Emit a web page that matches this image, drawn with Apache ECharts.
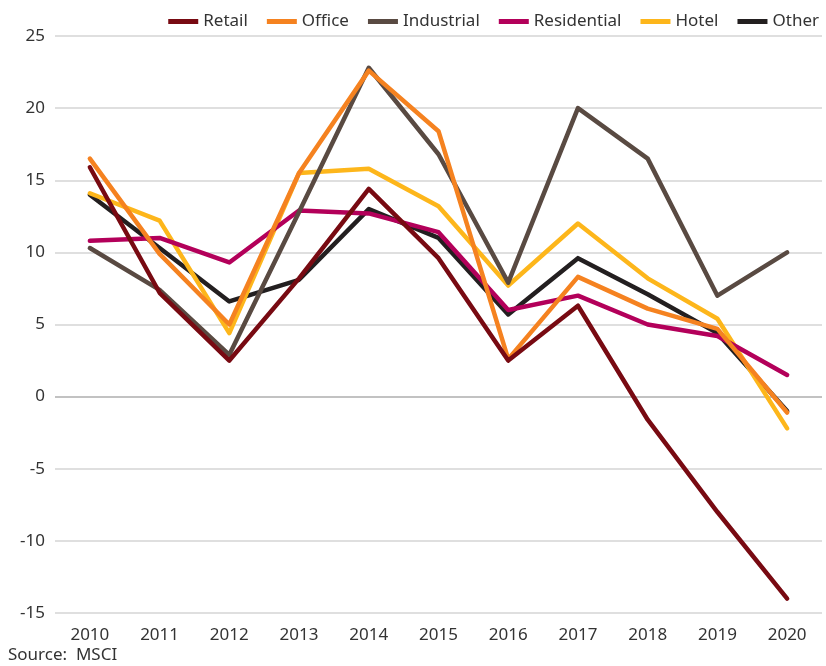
<!DOCTYPE html>
<html>
<head>
<meta charset="utf-8">
<script src="https://cdn.jsdelivr.net/npm/echarts@6/dist/echarts.min.js"></script>
<style>
  html, body { margin: 0; padding: 0; background: #fff; }
  #main { width: 826px; height: 666px; }
</style>
</head>
<body>
<div id="main"></div>
<script>
// categories and values
var years = ['2010', '2011', '2012', '2013', '2014', '2015', '2016', '2017', '2018', '2019', '2020'];
var retail      = [15.9, 7.2, 2.5, 8.2, 14.4, 9.6, 2.5, 6.3, -1.6, -8.0, -14.0];
var office      = [16.5, 9.9, 5.0, 15.5, 22.6, 18.4, 2.6, 8.3, 6.1, 4.7, -1.1];
var industrial  = [10.3, 7.4, 2.9, 12.8, 22.8, 16.8, 7.9, 20.0, 16.5, 7.0, 10.0];
var residential = [10.8, 11.0, 9.3, 12.9, 12.7, 11.4, 6.0, 7.0, 5.0, 4.2, 1.5];
var hotel       = [14.1, 12.2, 4.4, 15.5, 15.8, 13.2, 7.7, 12.0, 8.2, 5.4, -2.2];
var other       = [14.0, 10.3, 6.6, 8.1, 13.0, 11.0, 5.7, 9.6, 7.1, 4.4, -1.0];

var names  = ['Retail', 'Office', 'Industrial', 'Residential', 'Hotel', 'Other'];
var colors = ['#780a12', '#f58220', '#594a42', '#b3005a', '#fdb61b', '#231f20'];
var values = [retail, office, industrial, residential, hotel, other];

var font = '"Noto Sans", Lato, sans-serif';
var myChart = echarts.init(document.getElementById('main'));

var series = names.map(function (n, i) {
    var s = {
        name: n,
        type: 'line',
        data: values[i],
        symbol: 'none',
        lineStyle: { width: 4.5, color: colors[i], cap: 'round', join: 'round' },
        itemStyle: { color: colors[i] },
        z: 10 - i
    };
    if (i === 0) {
        // slightly darker zero line
        s.markLine = {
            silent: true,
            symbol: 'none',
            label: { show: false },
            lineStyle: { color: '#b8b8b8', type: 'solid', width: 1.5 },
            data: [{ yAxis: 0 }],
            z: 1
        };
    }
    return s;
});

var option = {
    animation: false,
    color: colors,
    textStyle: { fontFamily: font },
    legend: {
        data: names,
        top: 8,
        right: 2,
        itemWidth: 30,
        itemHeight: 5,
        itemGap: 19,
        icon: 'rect',
        textStyle: { fontSize: 17, color: '#333', fontFamily: font }
    },
    grid: { left: 55, right: 4, top: 36, bottom: 53 },
    xAxis: {
        type: 'category',
        data: years,
        boundaryGap: true,
        axisLine: { show: false },
        axisTick: { show: false },
        axisLabel: { fontSize: 17, color: '#333', margin: 14, fontFamily: font }
    },
    yAxis: {
        type: 'value',
        min: -15,
        max: 25,
        interval: 5,
        axisLine: { show: false },
        axisTick: { show: false },
        axisLabel: { fontSize: 17, color: '#333', margin: 10, fontFamily: font },
        splitLine: { lineStyle: { color: '#d4d4d4', width: 1.5 } }
    },
    graphic: [{
        type: 'text',
        left: 8,
        top: 647,
        style: { text: 'Source:  MSCI', fontSize: 17, fill: '#333', fontFamily: font }
    }],
    series: series
};
myChart.setOption(option);
</script>
</body>
</html>
